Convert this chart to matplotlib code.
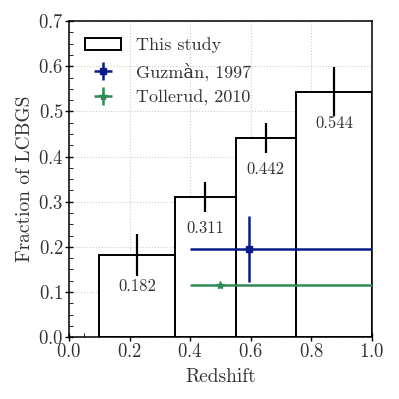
import matplotlib
matplotlib.use("Agg")
import matplotlib.pyplot as plt
from matplotlib.ticker import AutoMinorLocator

plt.rcParams['font.family'] = ['cmr10', 'DejaVu Serif']
plt.rcParams['mathtext.fontset'] = 'cm'
plt.rcParams['axes.formatter.use_mathtext'] = True
plt.rcParams['axes.unicode_minus'] = False

# this study
bin_edges = [0.1, 0.35, 0.55, 0.75, 1.0]
fractions = [0.182, 0.311, 0.442, 0.544]
frac_err = [0.046, 0.033, 0.033, 0.054]

# literature points
guz_z, guz_f = 0.595, 0.195
guz_zerr = [[0.195], [0.45]]
guz_ferr = 0.073
tol_z, tol_f = 0.5, 0.115
tol_zerr = [[0.1], [0.55]]
tol_ferr = 0.004

fig, ax = plt.subplots(figsize=(3.99, 3.99), dpi=100)

widths = [bin_edges[i + 1] - bin_edges[i] for i in range(len(fractions))]
centers = [bin_edges[i] + widths[i] / 2 for i in range(len(fractions))]
ax.bar(bin_edges[:-1], fractions, width=widths, align='edge', facecolor='white',
       edgecolor='black', linewidth=1.4, label='This study', zorder=2)
ax.errorbar(centers, fractions, yerr=frac_err, fmt='none', ecolor='black',
            elinewidth=1.6, zorder=3)
for c, f in zip(centers, fractions):
    ax.text(c, f - 0.07, '%.3f' % f, ha='center', va='center', fontsize=12, color='#333333')

ax.errorbar(guz_z, guz_f, xerr=guz_zerr, yerr=guz_ferr, fmt='s', color='#0a1a8a',
            markersize=4, elinewidth=1.8, label='Guzmàn, 1997', zorder=4)
ax.errorbar(tol_z, tol_f, xerr=tol_zerr, yerr=tol_ferr, fmt='*', color='#2e8b57',
            markersize=6, elinewidth=1.8, label='Tollerud, 2010', zorder=4)

ax.set_xlim(0, 1.0)
ax.set_ylim(0, 0.7)
ax.set_xlabel('Redshift', fontsize=14, color='#333333', labelpad=5)
ax.set_ylabel('Fraction of LCBGS', fontsize=14, color='#333333', labelpad=3)
ax.grid(True, linestyle=':', color='#cccccc', linewidth=0.8, zorder=0)
ax.set_axisbelow(True)
ax.xaxis.set_minor_locator(AutoMinorLocator(4))
ax.yaxis.set_minor_locator(AutoMinorLocator(4))
ax.tick_params(labelsize=13.5, labelcolor='#333333', width=1.0, length=6,
               direction='inout', pad=1)
ax.tick_params(which='minor', length=3, direction='in')
for s in ax.spines.values():
    s.set_linewidth(1.1)

ax.legend(loc='upper left', frameon=False, fontsize=13, labelcolor='#333333',
          handlelength=2.0, handletextpad=0.8)

fig.subplots_adjust(left=0.173, right=0.932, top=0.947, bottom=0.155)
fig.savefig('out.png', dpi=100)
